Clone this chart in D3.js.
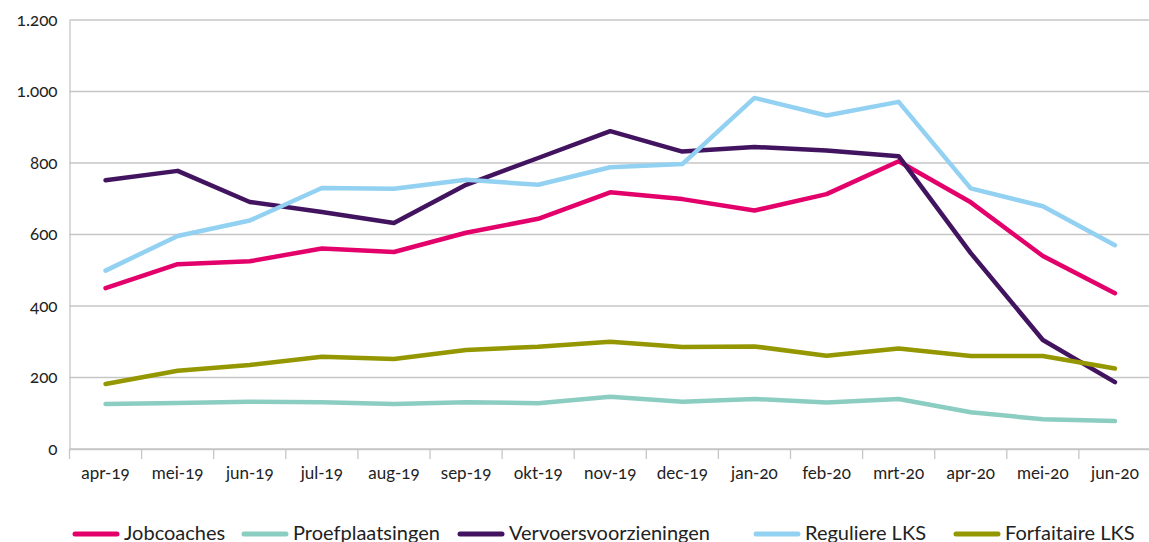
<!DOCTYPE html>
<html>
<head>
<meta charset="utf-8">
<script src="https://cdn.jsdelivr.net/npm/d3@7"></script>
<style>
    html, body { margin: 0; padding: 0; background: #fff; overflow: hidden; }
    svg { display: block; font-family: Lato, "Open Sans", sans-serif; font-variant-numeric: oldstyle-nums; }
</style>
</head>
<body>
<script>
// data
var months = ['apr-19', 'mei-19', 'jun-19', 'jul-19', 'aug-19', 'sep-19', 'okt-19', 'nov-19',
    'dec-19', 'jan-20', 'feb-20', 'mrt-20', 'apr-20', 'mei-20', 'jun-20']
var seriesNames = ['Jobcoaches', 'Proefplaatsingen', 'Vervoersvoorzieningen', 'Reguliere LKS', 'Forfaitaire LKS']
var jobcoaches = [450, 517, 525, 561, 551, 605, 644, 718, 699, 667, 713, 805, 690, 540, 436]
var proefplaatsingen = [126, 129, 132, 131, 126, 131, 128, 146, 132, 140, 130, 140, 103, 83, 78]
var vervoer = [752, 778, 691, 663, 632, 739, 814, 889, 832, 845, 835, 819, 548, 305, 187]
var reguliereLks = [499, 596, 639, 730, 728, 753, 739, 788, 797, 982, 933, 971, 729, 679, 570]
var forfaitaireLks = [182, 219, 235, 258, 252, 277, 286, 300, 285, 287, 261, 281, 260, 260, 225]
var yTicks = [0, 200, 400, 600, 800, 1000, 1200]
var colors = ['#e3006b', '#8bcdc1', '#42145f', '#92d1f1', '#949700']

var series = [jobcoaches, proefplaatsingen, vervoer, reguliereLks, forfaitaireLks]

var W = 1149, H = 542
// plot area (note: "top" is reserved on window)
var plotL = 69.5, plotR = 1151, plotT = 20, plotB = 449

var svg = d3.select('body').append('svg')
    .attr('width', W)
    .attr('height', H)

var x = d3.scaleBand().domain(months).range([plotL, plotR])
var y = d3.scaleLinear().domain([0, 1200]).range([plotB, plotT])

var fmt = function (d) {
    return d3.format(',')(d).replace(',', '.')
}

// gridlines
svg.append('g')
    .selectAll('line')
    .data(yTicks)
    .enter().append('line')
    .attr('x1', plotL)
    .attr('x2', W)
    .attr('y1', function (d) { return y(d) })
    .attr('y2', function (d) { return y(d) })
    .attr('stroke', '#c6c6c6')
    .attr('stroke-width', 1.3)

// y axis
var yAxis = svg.append('g')
    .attr('transform', 'translate(' + plotL + ',0)')
    .call(d3.axisLeft(y).tickValues(yTicks).tickSize(0).tickPadding(12).tickFormat(fmt))
yAxis.select('.domain').attr('stroke', '#c6c6c6').attr('stroke-width', 1.3)
yAxis.selectAll('text').attr('font-size', 17).attr('fill', '#222')
    .attr('font-family', 'Lato, sans-serif')

// x axis with ticks at band boundaries
var xAxis = svg.append('g')
    .attr('transform', 'translate(0,' + plotB + ')')
    .call(d3.axisBottom(x).tickSize(0).tickPadding(18))
xAxis.select('.domain').attr('stroke', '#c6c6c6').attr('stroke-width', 1.3)
xAxis.selectAll('text').attr('font-size', 17).attr('fill', '#222')
    .attr('font-family', 'Lato, sans-serif')

svg.append('g')
    .selectAll('line')
    .data(months)
    .enter().append('line')
    .attr('x1', function (d) { return x(d) })
    .attr('x2', function (d) { return x(d) })
    .attr('y1', plotB)
    .attr('y2', plotB + 10)
    .attr('stroke', '#c6c6c6')
    .attr('stroke-width', 1.3)

// lines
var line = d3.line()
    .x(function (d, i) { return x(months[i]) + x.bandwidth() / 2 })
    .y(function (d) { return y(d) })

svg.append('g')
    .selectAll('path')
    .data(series)
    .enter().append('path')
    .attr('d', line)
    .attr('fill', 'none')
    .attr('stroke', function (d, i) { return colors[i] })
    .attr('stroke-width', 4.5)
    .attr('stroke-linecap', 'round')
    .attr('stroke-linejoin', 'round')

// legend
var legendX = [75, 244, 460, 756, 956]
var legend = svg.append('g')
    .selectAll('g')
    .data(seriesNames)
    .enter().append('g')
    .attr('transform', function (d, i) { return 'translate(' + legendX[i] + ',534)' })

legend.append('line')
    .attr('x1', 0)
    .attr('x2', 42)
    .attr('stroke', function (d, i) { return colors[i] })
    .attr('stroke-width', 5)
    .attr('stroke-linecap', 'round')

legend.append('text')
    .attr('x', 49)
    .attr('y', 6)
    .attr('font-size', 20)
    .attr('fill', '#222')
    .text(function (d) { return d })
</script>
</body>
</html>
